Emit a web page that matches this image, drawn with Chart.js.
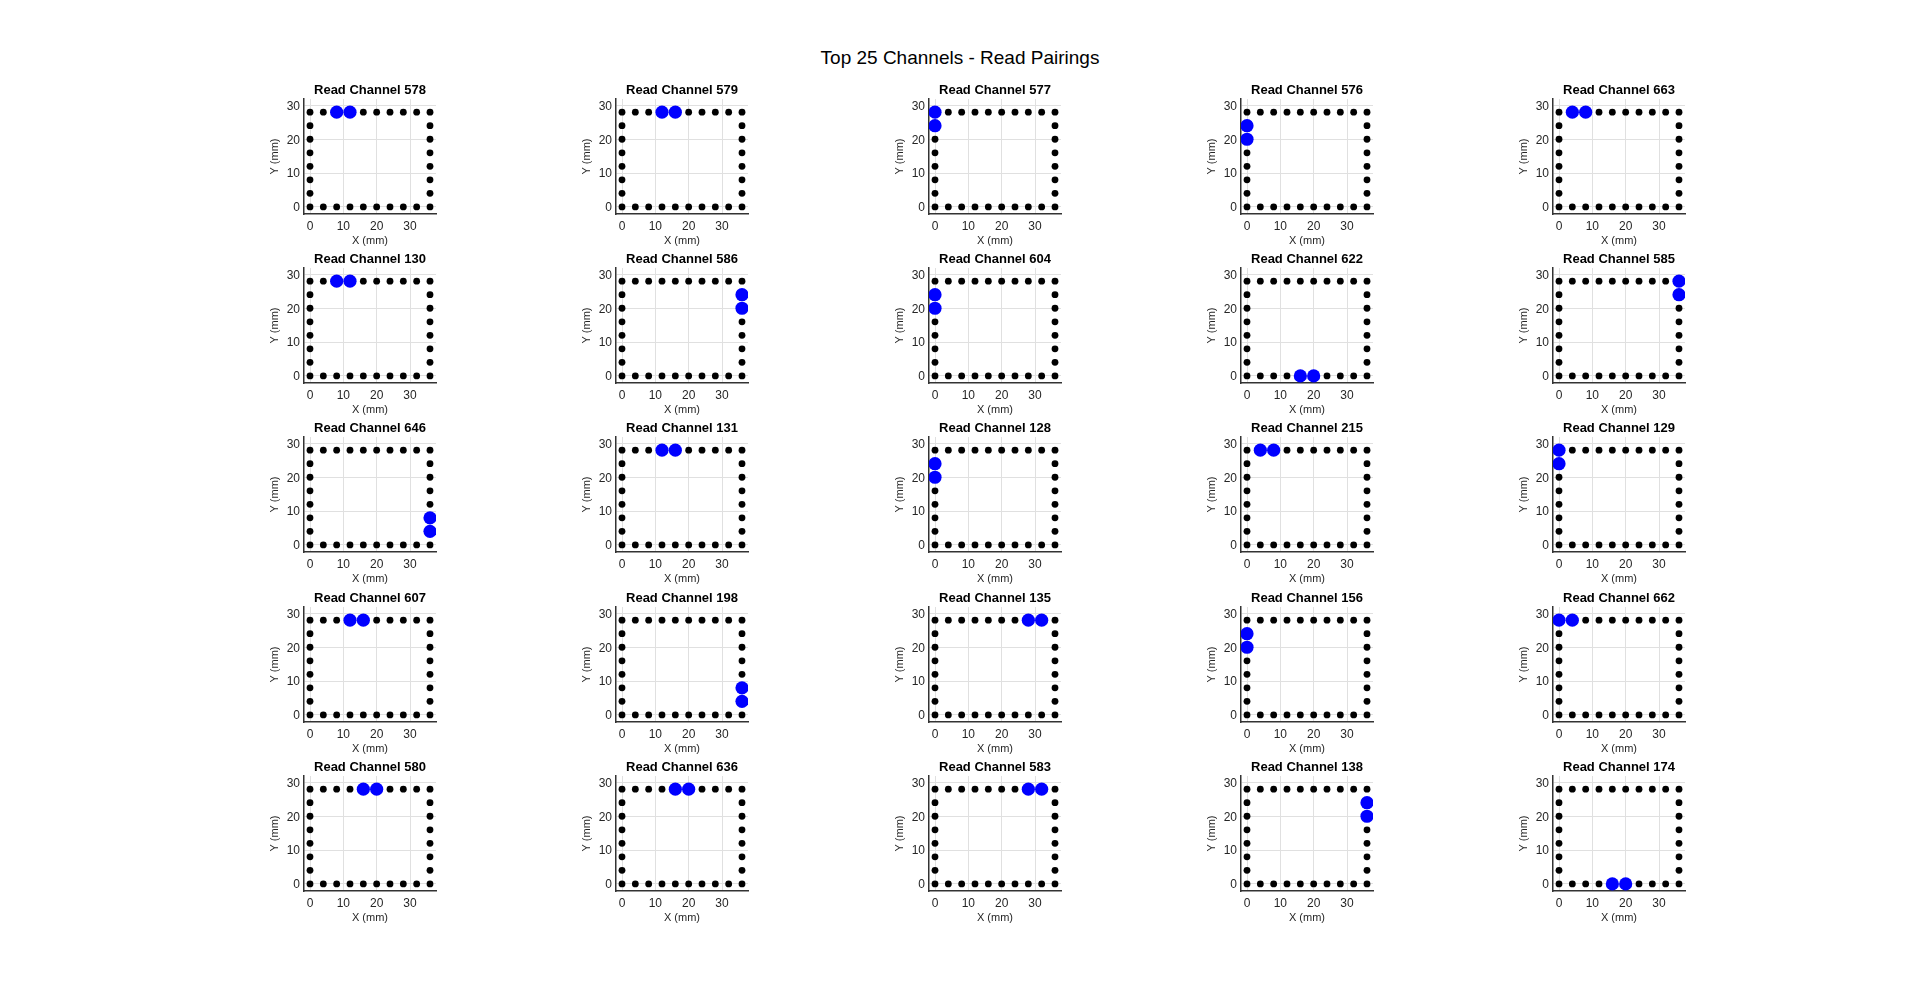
<!DOCTYPE html>
<html>
<head>
<meta charset="utf-8">
<script src="https://cdn.jsdelivr.net/npm/chart.js@4.4.1/dist/chart.umd.min.js"></script>
<style>
  html, body { margin: 0; padding: 0; background: #ffffff; }
  #wrap { position: relative; width: 1920px; height: 1003px; overflow: hidden; background: #fff; }
  #mainTitle { position: absolute; left: 0; width: 1920px; top: 46px; text-align: center;
    font-family: "Liberation Sans", Arial, sans-serif; font-size: 19px; color: #000; line-height: 24px; }
  canvas { position: absolute; }
</style>
</head>
<body>
<div id="wrap">
  <div id="mainTitle">Top 25 Channels - Read Pairings</div>
</div>
<script>
// ---- Data ----
const mainTitle = "Top 25 Channels - Read Pairings";
const channels = [578, 579, 577, 576, 663,
                  130, 586, 604, 622, 585,
                  646, 131, 128, 215, 129,
                  607, 198, 135, 156, 662,
                  580, 636, 583, 138, 174];
// electrode positions (mm)
const electrodeX = [0, 4, 8, 12, 16, 20, 24, 28, 32, 36,
                    0, 4, 8, 12, 16, 20, 24, 28, 32, 36,
                    0, 0, 0, 0, 0, 0,
                    36, 36, 36, 36, 36, 36];
const electrodeY = [0, 0, 0, 0, 0, 0, 0, 0, 0, 0,
                    28, 28, 28, 28, 28, 28, 28, 28, 28, 28,
                    4, 8, 12, 16, 20, 24,
                    4, 8, 12, 16, 20, 24];
// read pair electrodes per channel
const pairAX = [8, 12, 0, 0, 4,   8, 36, 0, 16, 36,   36, 12, 0, 4, 0,   12, 36, 28, 0, 0,   16, 16, 28, 36, 16];
const pairAY = [28, 28, 28, 24, 28,   28, 24, 24, 0, 28,   8, 28, 24, 28, 28,   28, 8, 28, 24, 28,   28, 28, 28, 24, 0];
const pairBX = [12, 16, 0, 0, 8,   12, 36, 0, 20, 36,   36, 16, 0, 8, 0,   16, 36, 32, 0, 4,   20, 20, 32, 36, 20];
const pairBY = [28, 28, 24, 20, 28,   28, 20, 20, 0, 24,   4, 28, 20, 28, 24,   28, 4, 28, 20, 28,   28, 28, 28, 20, 0];
const xTicks = [0, 10, 20, 30];
const yTicks = [0, 10, 20, 30];
const xTickLabels = ["0", "10", "20", "30"];
const yTickLabels = ["0", "10", "20", "30"];
const xLabel = "X (mm)";
const yLabel = "Y (mm)";
const titlePrefix = "Read Channel ";

document.getElementById('mainTitle').textContent = mainTitle;

// ---- Layout ----
const FONT = '"Liberation Sans", Arial, Helvetica, sans-serif';
const COLS = 5;
const plotLeft0 = 304, colStep = 312.3;
const plotBottom0 = 214, rowStep = 169.2;
const plotW = 132, plotH = 115;
const padL = 60, padT = 32, padR = 20, padB = 36;

const wrap = document.getElementById('wrap');

channels.forEach((ch, i) => {
  const r = Math.floor(i / COLS), c = i % COLS;
  const pl = plotLeft0 + c * colStep;
  const pb = plotBottom0 + r * rowStep;
  const pt = pb - plotH;
  const cv = document.createElement('canvas');
  const W = padL + plotW + padR, H = padT + plotH + padB;
  cv.width = W; cv.height = H;
  cv.style.width = W + 'px'; cv.style.height = H + 'px';
  cv.style.left = (pl - padL) + 'px';
  cv.style.top = (pt - padT) + 'px';
  wrap.appendChild(cv);

  const electrodes = electrodeX.map((x, k) => ({ x: x, y: electrodeY[k] }));
  const pair = [{ x: pairAX[i], y: pairAY[i] }, { x: pairBX[i], y: pairBY[i] }];

  new Chart(cv, {
    type: 'scatter',
    data: {
      datasets: [
        { data: pair, order: 0, pointRadius: 6.6, pointHoverRadius: 6.6,
          backgroundColor: '#0000ff', borderColor: '#0000ff', borderWidth: 0 },
        { data: electrodes, order: 1, pointRadius: 3.4, pointHoverRadius: 3.4,
          backgroundColor: '#000000', borderColor: '#000000', borderWidth: 0 }
      ]
    },
    options: {
      responsive: false,
      animation: false,
      devicePixelRatio: 1,
      events: [],
      layout: { autoPadding: false, padding: { left: 0, right: padR, top: 0, bottom: 0 } },
      plugins: {
        legend: { display: false },
        tooltip: { enabled: false },
        title: {
          display: true,
          fullSize: false,
          align: 'center',
          text: titlePrefix + ch,
          color: '#000000',
          font: { family: FONT, size: 13, weight: 'bold', lineHeight: 1.2 },
          padding: { top: 15.6, bottom: 0.8 }
        }
      },
      scales: {
        x: {
          type: 'linear', min: -1.8, max: 37.8,
          afterFit: s => { s.height = padB; },
          afterBuildTicks: s => { s.ticks = xTicks.map(v => ({ value: v })); },
          ticks: {
            autoSkip: false, maxRotation: 0, padding: 5.5,
            color: '#262626', font: { family: FONT, size: 12 },
            callback: (v) => { const k = xTicks.indexOf(v); return k >= 0 ? xTickLabels[k] : ''; }
          },
          grid: { color: '#e0e0e0', lineWidth: 1, drawTicks: false },
          border: { display: true, color: '#333333', width: 1.5 },
          title: { display: true, text: xLabel, color: '#262626',
                   font: { family: FONT, size: 11, lineHeight: 1.2 }, padding: { top: 0, bottom: 2.5 } }
        },
        y: {
          type: 'linear', min: -2.1, max: 31.9,
          afterFit: s => { s.width = padL; },
          afterBuildTicks: s => { s.ticks = yTicks.map(v => ({ value: v })); },
          ticks: {
            autoSkip: false, padding: 4, labelOffset: 1,
            color: '#262626', font: { family: FONT, size: 12 },
            callback: (v) => { const k = yTicks.indexOf(v); return k >= 0 ? yTickLabels[k] : ''; }
          },
          grid: { color: '#e0e0e0', lineWidth: 1, drawTicks: false },
          border: { display: true, color: '#333333', width: 1.5 },
          title: { display: true, text: yLabel, color: '#262626',
                   font: { family: FONT, size: 11, lineHeight: 1.2 }, padding: { top: 24, bottom: 0 } }
        }
      }
    }
  });
});
</script>
</body>
</html>
